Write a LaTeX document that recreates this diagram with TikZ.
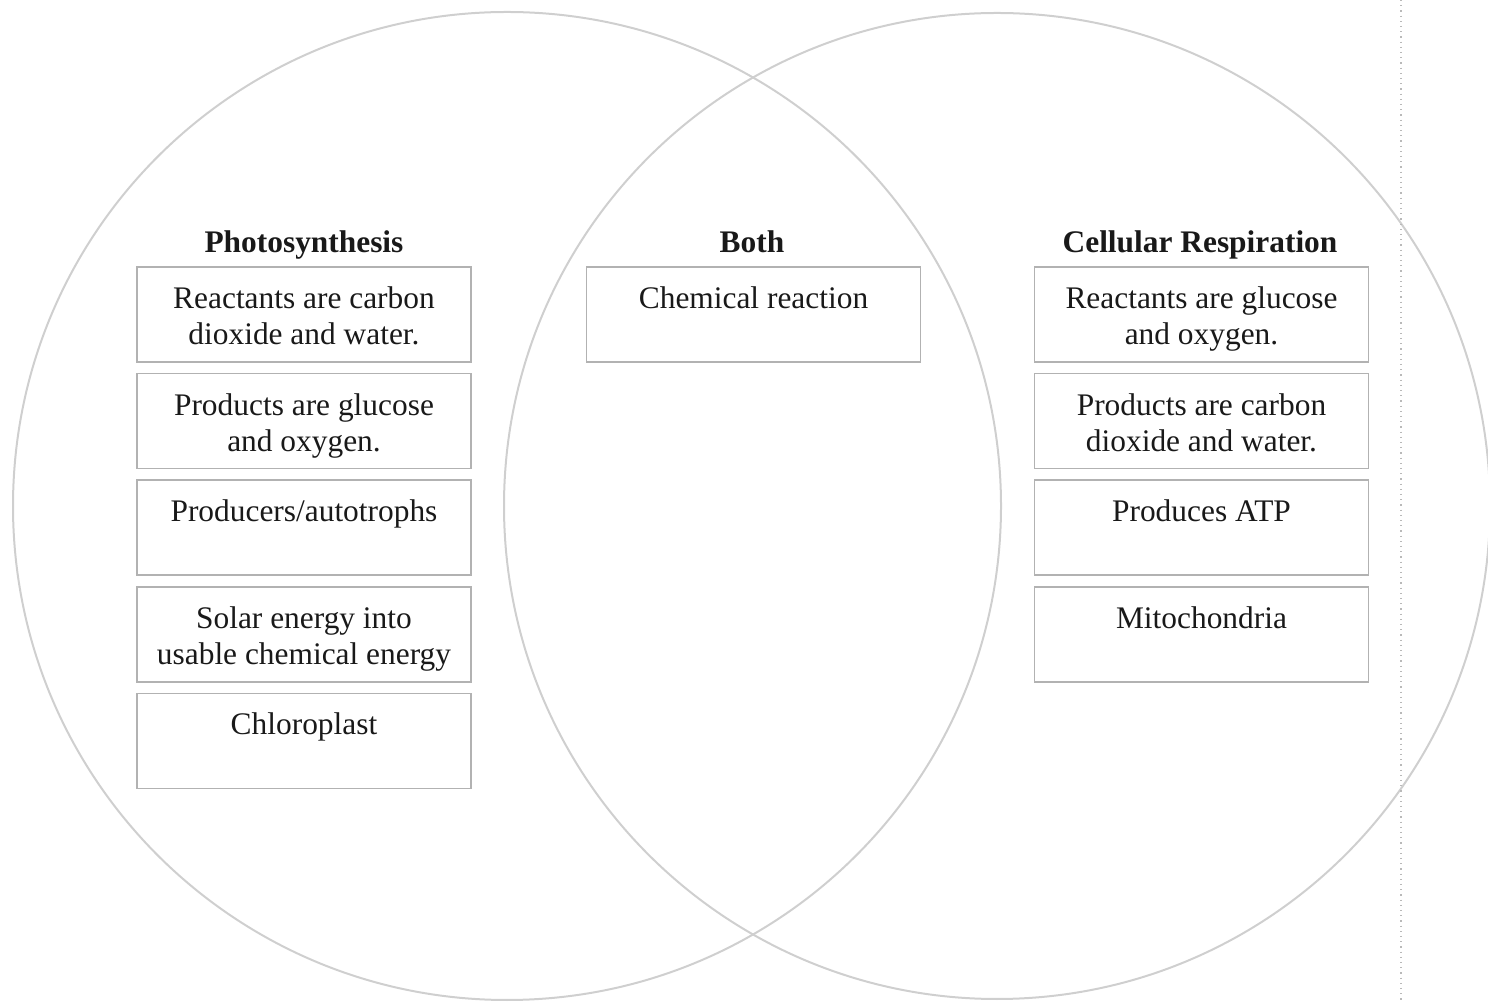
\documentclass[tikz,border=0pt]{standalone}
\usepackage{fontspec}
\setmainfont{Liberation Serif}
\usetikzlibrary{calc,positioning}

\begin{document}
\begin{tikzpicture}[x=0.5pt, y=0.5pt,
    ring/.style={draw=gray!38, line width=1pt},
    cellbox/.style={draw=gray!60, line width=0.8pt, minimum width=167pt, minimum height=47.5pt, inner sep=0pt},
    celltext/.style={align=center, inner sep=0pt, text=black!90, font=\fontsize{15.7}{18}\selectfont},
    heading/.style={anchor=base, inner sep=0pt, text=black!90, font=\fontsize{15.7}{18}\selectfont\bfseries}]
    \useasboundingbox (0,0) rectangle (1488,1001);

    % Define the centres of the two circles
    \coordinate (PhotoC) at (507,495);
    \coordinate (RespC) at (997,495);
    \coordinate (CutTop) at (1401,1001); % faint fold line on the right
    \coordinate (CutBot) at (1401,0);

    % Draw circles
    \draw[ring] (PhotoC) circle[radius=494];
    \draw[ring] (RespC) circle[radius=493];
    \draw[dotted, gray!55, line width=0.6pt] (CutTop) -- (CutBot);

    % Photosynthesis column
    \node[cellbox] (ps1) at (304,686.5) {};
    \node[cellbox, below=5pt of ps1] (ps2) {};
    \node[cellbox, below=5pt of ps2] (ps3) {};
    \node[cellbox, below=5pt of ps3] (ps4) {};
    \node[cellbox, below=5pt of ps4] (ps5) {};

    % Both column
    \node[cellbox] (bo1) at (753.5,686.5) {};

    % Cellular respiration column
    \node[cellbox] (cr1) at (1201.5,686.5) {};
    \node[cellbox, below=5pt of cr1] (cr2) {};
    \node[cellbox, below=5pt of cr2] (cr3) {};
    \node[cellbox, below=5pt of cr3] (cr4) {};

    % Headings
    \node[heading] (psHead) at ($(ps1.north)+(0,14)$) {Photosynthesis};
    \node[heading] (boHead) at ($(bo1.north)+(-1.5,14)$) {Both};
    \node[heading] (crHead) at ($(cr1.north)+(-1.5,14)$) {Cellular Respiration};

    % Texts in the boxes
    \node[celltext, below=8.4pt of ps1.north] (ps1t) {\strut Reactants are carbon\\dioxide and water.};
    \node[celltext, below=8.4pt of ps2.north] (ps2t) {\strut Products are glucose\\and oxygen.};
    \node[celltext, below=8.4pt of ps3.north] (ps3t) {\strut Producers/autotrophs};
    \node[celltext, below=8.4pt of ps4.north] (ps4t) {\strut Solar energy into\\usable chemical energy};
    \node[celltext, below=8.4pt of ps5.north] (ps5t) {\strut Chloroplast};
    \node[celltext, below=8.4pt of bo1.north] (bo1t) {\strut Chemical reaction};
    \node[celltext, below=8.4pt of cr1.north] (cr1t) {\strut Reactants are glucose\\and oxygen.};
    \node[celltext, below=8.4pt of cr2.north] (cr2t) {\strut Products are carbon\\dioxide and water.};
    \node[celltext, below=8.4pt of cr3.north] (cr3t) {\strut Produces ATP};
    \node[celltext, below=8.4pt of cr4.north] (cr4t) {\strut Mitochondria};
\end{tikzpicture}
\end{document}
